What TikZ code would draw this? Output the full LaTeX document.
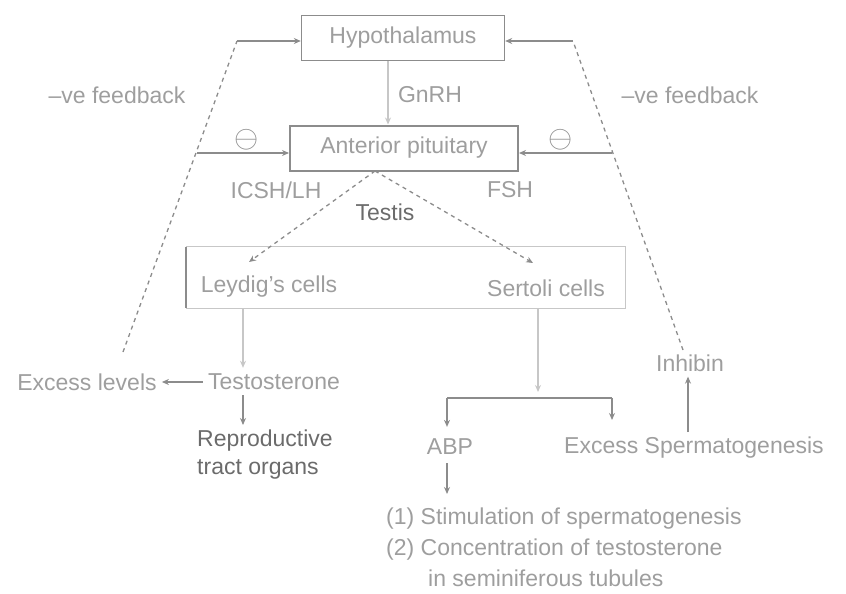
\documentclass[tikz,border=0pt]{standalone}
\usepackage{fontspec}
\setmainfont{Liberation Sans}
\usetikzlibrary{arrows.meta,calc}
\definecolor{linecol}{gray}{0.55}
\definecolor{lightline}{gray}{0.78}
\definecolor{txtcol}{gray}{0.62}
\definecolor{darktxt}{gray}{0.42}
\begin{document}
\begin{tikzpicture}[x=1pt,y=-1pt,
  every node/.style={font=\fontsize{23}{28}\selectfont, text=txtcol, inner sep=0pt},
  box/.style={draw=linecol, line width=1.4pt, rectangle},
  arr/.style={draw=linecol, line width=1.3pt, -{Stealth[length=7pt,width=6pt]}},
  plainline/.style={draw=linecol, line width=1.3pt},
  dash line/.style={draw=linecol, line width=1.3pt, dash pattern=on 4pt off 4pt},
  dash arr/.style={dash line, -{Stealth[length=7pt,width=6pt]}},
  light arr/.style={draw=lightline, line width=1.3pt, -{Stealth[length=7pt,width=6pt]}},
  gap/.style={shorten <=5pt, shorten >=5pt}]
\useasboundingbox (0,0) rectangle (846,594);
% boxes
\node[box, minimum width=203pt, minimum height=45pt] (hyp) at (403,38) {Hypothalamus};
\node[box, line width=2pt, minimum width=228pt, minimum height=45pt] (ap) at (404,148) {Anterior pituitary};
\node[minimum width=439pt, minimum height=61pt] (tb) at (405.5,277.5) {};
\draw[lightline, line width=1.3pt] (tb.north west) -- (tb.north east) -- (tb.south east) -- (tb.south west);
\draw[linecol, line width=1.8pt] (tb.north west) -- (tb.south west);
% labels
\node (gnrh) at (430,95) {GnRH};
\node (fbl) at (117,95) {--ve feedback};
\node (fbr) at (690,95) {--ve feedback};
\node (icsh) at (276,190) {ICSH/LH};
\node (fsh) at (510,190) {FSH};
\node[text=darktxt] (testis) at (385,212) {Testis};
\node (leydig) at (269,287) {Leydig's cells};
\node (sertoli) at (546,288) {Sertoli cells};
\node (excl) at (87,382) {Excess levels};
\node (testo) at (274,382) {Testosterone};
\node[text=darktxt, align=left, anchor=north west] (repro) at (197,430) {Reproductive\\tract organs};
\node (inhibin) at (690,363) {Inhibin};
\node (abp) at (450,447) {ABP};
\node (exsp) at (694,448) {Excess Spermatogenesis};
\node[align=left, anchor=north west, font=\fontsize{23}{31}\selectfont] (effects) at (386,508)
  {(1) Stimulation of spermatogenesis\\(2) Concentration of testosterone\\\hspace*{42pt}in seminiferous tubules};
\node[text=linecol, scale=1.25] (minl) at (247,140) {$\ominus$};
\node[text=linecol, scale=1.25] (minr) at (561,140) {$\ominus$};
% coordinates
\coordinate (cl1) at (237,41);
\coordinate (cl2) at (197,153);
\coordinate (clend) at (123,352);
\coordinate (cr1) at (573,41);
\coordinate (cr2) at (612,153);
\coordinate (crend) at (683,350);
\coordinate (apb) at (375,171);
\coordinate (gx) at (388,0);
\coordinate (lx) at (243,0);
\coordinate (sx) at (538,0);
\coordinate (barl) at (447,398);
\coordinate (barr) at (612,398);
\coordinate (exspt) at (612,420);
\coordinate (inx) at (688,0);
% connectors
\draw[light arr] (hyp.south -| gx) -- (ap.north -| gx);
\draw[dash line] (clend) -- (cl1);
\draw[arr] (cl1) -- (hyp.west |- cl1);
\draw[arr] (cl2) -- (ap.west |- cl2);
\draw[dash line] (crend) -- (cr1);
\draw[arr] (cr1) -- (hyp.east |- cr1);
\draw[arr] (cr2) -- (ap.east |- cr2);
\draw[dash arr] (apb) -- (249,262);
\draw[dash arr] (apb) -- (533,263);
\draw[light arr, shorten >=6pt] (tb.south -| lx) -- (testo.north -| lx);
\draw[arr, gap] (testo.west) -- (excl.east);
\draw[arr, gap] (testo.south -| lx) -- (repro.north -| lx);
\draw[light arr] (tb.south -| sx) -- ($(barl -| sx)+(0,-6)$);
\draw[plainline] (barl) -- (barr);
\draw[arr, shorten >=12pt] (barl) -- (abp.north -| barl);
\draw[arr] (barr) -- (exspt);
\draw[arr, shorten <=8pt, shorten >=14pt] (abp.south -| barl) -- (effects.north -| barl);
\draw[arr, gap] (exsp.north -| inx) -- (inhibin.south -| inx);
\end{tikzpicture}
\end{document}
